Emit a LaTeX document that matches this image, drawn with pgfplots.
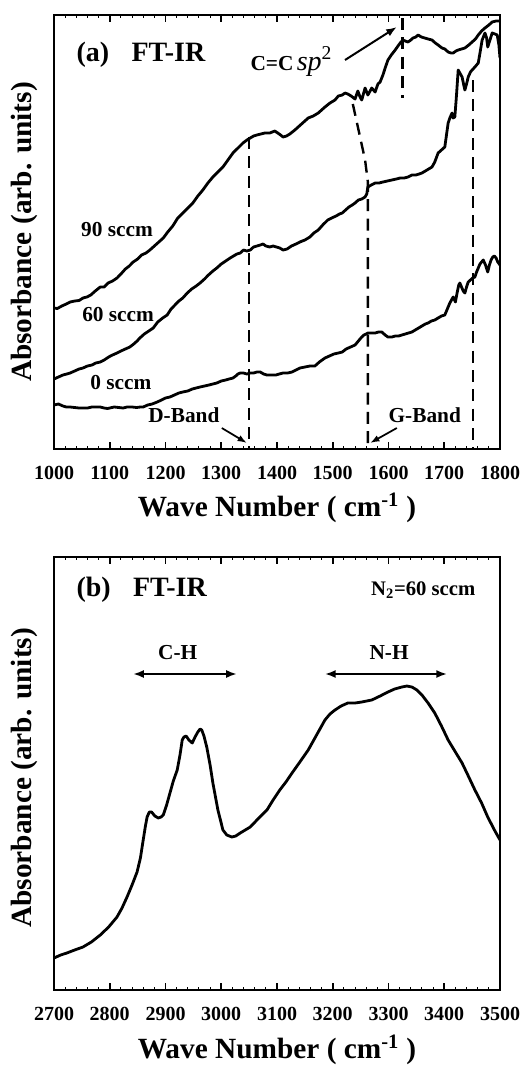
\documentclass[border=0pt]{standalone}
\usepackage{fontspec}
\setmainfont{Liberation Serif}
\usepackage{pgfplots}
\pgfplotsset{compat=1.18}
\usetikzlibrary{arrows.meta}

\pgfplotscreateplotcyclelist{ftirlist}{black,mark=none,line width=2.1pt,line join=round\\}
\pgfplotsset{
  ftir/.style={
    scale only axis, width=334.5pt,
    axis line style={line width=2pt},
    ytick=\empty,
    xtick pos=both,
    minor x tick num=4,
    tick align=inside,
    major tick length=5pt, minor tick length=2.5pt,
    every tick/.style={black, line width=1.2pt},
    every minor tick/.style={black, line width=0.8pt},
    xticklabel style={font=\fontsize{15}{15}\selectfont\bfseries, anchor=center, yshift=-18pt},
    /pgf/number format/assume math mode=true,
    /pgf/number format/1000 sep={},
    xlabel style={font=\fontsize{22}{26}\selectfont\bfseries, anchor=center},
    ylabel style={font=\fontsize{22}{26}\selectfont\bfseries, anchor=center},
    cycle list name=ftirlist,
  },
}
\tikzset{
  dashline/.style={line width=1.8pt, dash pattern=on 9pt off 5.5pt, black},
  lab/.style={font=\fontsize{16}{16}\selectfont\bfseries},
}

\begin{document}
\begin{tikzpicture}
\useasboundingbox (0,0) rectangle (393pt,-798.75pt);

% ---------------- panel (a) ----------------
\begin{axis}[ftir, at={(40.5pt,-11.25pt)}, anchor=north west, height=325.5pt,
  xmin=1000, xmax=1800, ymin=-449, ymax=-15,
  xtick={1000,1100,...,1800},
  xlabel={Wave Number ( cm\textsuperscript{-1} )},
  ylabel={Absorbance (arb. units)},
  xlabel style={at={(axis description cs:0.5,-0.136)}},
  ylabel style={at={(axis description cs:-0.066,0.5)}},
]
% 90 sccm
\addplot coordinates {
(1000,-308)(1006,-308.5)(1014,-306)(1022,-304)(1029,-302)(1037,-301)(1045,-300.5)(1052,-298)(1059,-297)(1066,-295)
(1074,-291)(1083,-287)(1090,-287)(1097,-283)(1105,-281)(1113,-278)(1120,-274)(1128,-269)(1135,-266)(1142,-262)
(1150,-259)(1157,-255)(1165,-253)(1172,-250)(1180,-246)(1188,-242)(1196,-238)(1204,-232)(1213,-226)(1222,-218)
(1231,-213)(1240,-208)(1249,-203)(1258,-196)(1267,-190)(1276,-183)(1285,-177)(1294,-172)(1303,-167)(1312,-160)
(1321,-153)(1330,-148)(1339,-143)(1346,-140)(1352,-138)(1358,-136)(1364,-135)(1371,-134)(1378,-133)(1387,-133)
(1396,-131)(1404,-134)(1411,-137)(1417,-136)(1423,-134)(1432,-130)(1440,-126)(1448,-122)(1456,-118)(1465,-116)
(1474,-113)(1480,-110)(1486,-107)(1495,-103)(1504,-100)(1510,-96)(1517,-95)(1522,-93)(1527,-94)(1533,-96)
(1540,-99)(1545,-91)(1549,-97)(1552,-100)(1558,-88)(1563,-95)(1567,-91)(1570,-88)(1576,-92)(1581,-84)
(1585,-82)(1590,-75)(1594,-68)(1599,-60)(1605,-55)(1612,-50)(1617,-46)(1621,-43)(1626,-40)(1630,-41)
(1635,-42)(1640,-40)(1644,-38)(1649,-37)(1653,-35)(1659,-37)(1665,-38)(1671,-39)(1678,-40)(1684,-43)
(1689,-45)(1696,-48)(1701,-49)(1707,-52)(1712,-53)(1716,-53)(1721,-51)(1725,-50)(1731,-49)(1737,-48)
(1744,-45)(1750,-42)(1756,-39)(1761,-35)(1767,-31)(1773,-28)(1780,-25)(1786,-22)(1793,-21)(1800,-21)
};
% 60 sccm
\addplot coordinates {
(1000,-379)(1008,-377)(1016,-375)(1023,-374)(1029,-373)(1037,-371)(1045,-369)(1052,-368)(1060,-366)(1068,-365)
(1075,-363)(1083,-362)(1090,-360)(1098,-357)(1105,-355)(1113,-353)(1120,-351)(1128,-349)(1136,-347)(1143,-344)
(1149,-341)(1154,-338)(1162,-334)(1170,-331)(1178,-328)(1186,-322)(1195,-318)(1203,-315)(1210,-309)(1217,-305)
(1224,-301)(1231,-298)(1239,-293)(1247,-289)(1255,-286)(1262,-283)(1270,-279)(1277,-275)(1285,-271)(1292,-268)
(1300,-264)(1308,-261)(1316,-258)(1322,-256)(1328,-254)(1334,-253)(1340,-250)(1346,-251)(1352,-250)(1358,-247)
(1364,-246)(1370,-245)(1375,-244)(1380,-246)(1387,-247)(1393,-246)(1399,-247)(1405,-248)(1411,-250)(1418,-249)
(1426,-246)(1434,-244)(1441,-242)(1450,-240)(1459,-237)(1466,-233)(1474,-230)(1482,-225)(1491,-220)(1498,-218)
(1506,-216)(1512,-214)(1517,-213)(1523,-210)(1529,-207)(1535,-205)(1540,-203)(1546,-200)(1552,-199)(1558,-197)
(1561,-194)(1563,-187)(1569,-185)(1576,-183)(1583,-183)(1590,-182)(1598,-181)(1606,-180)(1614,-179)(1621,-178)
(1628,-178)(1635,-177)(1642,-175)(1649,-175)(1655,-174)(1660,-173)(1666,-171)(1672,-169)(1678,-167)(1683,-162)
(1689,-153)(1695,-150)(1701,-147)(1704,-135)(1707,-123)(1710,-118)(1714,-113)(1716,-118)(1719,-117)(1722,-95)
(1725,-70)(1729,-74)(1732,-77)(1735,-85)(1737,-90)(1740,-84)(1743,-77)(1747,-72)(1750,-70)(1755,-67)
(1761,-63)(1765,-50)(1768,-40)(1773,-33)(1776,-38)(1778,-47)(1782,-40)(1786,-33)(1791,-34)(1795,-35)
(1798,-45)(1800,-58)
};
% 0 sccm
\addplot coordinates {
(1000,-405)(1008,-404)(1016,-406)(1022,-407)(1029,-407)(1037,-407.5)(1045,-408)(1052,-408)(1060,-408)(1068,-407)
(1075,-407)(1083,-407)(1090,-408)(1096,-408.5)(1100,-408)(1108,-407)(1116,-407.5)(1124,-408)(1131,-407)(1140,-407)
(1148,-407.5)(1155,-407)(1160,-407)(1168,-405)(1176,-404)(1185,-402)(1193,-400)(1200,-398)(1208,-397)(1216,-395)
(1224,-393)(1231,-392)(1240,-391)(1248,-389)(1255,-388)(1262,-387)(1270,-386)(1278,-385)(1285,-384)(1292,-383)
(1300,-381)(1308,-380)(1314,-379)(1321,-378)(1326,-376)(1330,-374)(1334,-373)(1340,-373)(1346,-374)(1352,-373)
(1358,-373)(1364,-372)(1370,-372)(1376,-374)(1382,-375)(1390,-375)(1398,-375)(1404,-374)(1411,-373)(1419,-373)
(1427,-372)(1434,-370)(1441,-368)(1450,-367)(1459,-366)(1468,-366)(1476,-362)(1486,-358)(1494,-356)(1502,-354)
(1510,-353)(1517,-352)(1524,-349)(1532,-347)(1540,-345)(1546,-341)(1549,-339)(1552,-337)(1556,-335)(1560,-334)
(1563,-333)(1570,-333)(1576,-333)(1582,-332)(1588,-332)(1594,-335)(1599,-337)(1606,-337)(1612,-336)(1618,-336)
(1624,-335)(1630,-334)(1636,-333)(1642,-332)(1648,-330)(1654,-328)(1660,-326)(1666,-324)(1671,-323)(1677,-321)
(1683,-320)(1689,-318)(1695,-316)(1701,-315)(1704,-311)(1707,-307)(1710,-303)(1713,-300)(1716,-297)(1720,-302)
(1723,-293)(1726,-285)(1728,-283)(1731,-287)(1734,-291)(1737,-293)(1740,-287)(1743,-282)(1747,-280)(1751,-278)
(1755,-277)(1758,-272)(1761,-268)(1764,-264)(1767,-262)(1770,-260)(1774,-265)(1778,-272)(1781,-265)(1784,-260)
(1787,-257)(1790,-256)(1793,-258)(1796,-262)(1800,-265)
};
% dashed guide lines
\addplot[dashline] coordinates {(1350,-137) (1350,-449)};
\addplot[dashline] coordinates {(1536,-104) (1549,-137) (1558,-160) (1563,-182) (1563,-449)};
\addplot[dashline] coordinates {(1752,-80) (1752,-449)};
\addplot[dashline] coordinates {(1625,-18) (1625,-98)};
% annotations
\node[anchor=west, font=\fontsize{21}{21}\selectfont\bfseries] at (axis cs:1032,-55) {(a)\hspace{0.8em}FT-IR};
\node[anchor=base west, inner sep=0pt] at (axis cs:1352,-70) {{\fontsize{16}{16}\selectfont\bfseries C=C} {\fontsize{21}{21}\selectfont\itshape sp\textsuperscript{\upshape 2}}};
\draw[-{Latex[length=8pt,width=6pt]}, line width=1.5pt] (axis cs:1522,-60) -- (axis cs:1615,-27);
\node[lab] at (axis cs:1113,-230) {90 sccm};
\node[lab] at (axis cs:1115,-315) {60 sccm};
\node[lab] at (axis cs:1120,-383) {0 sccm};
\node[lab] at (axis cs:1233,-415) {D-Band};
\node[lab] at (axis cs:1665,-415) {G-Band};
\draw[-{Latex[length=7pt,width=5pt]}, line width=1.3pt] (axis cs:1301,-428) -- (axis cs:1346,-443);
\draw[-{Latex[length=7pt,width=5pt]}, line width=1.3pt] (axis cs:1615,-428) -- (axis cs:1567,-443);
\end{axis}

% ---------------- panel (b) ----------------
\begin{axis}[ftir, at={(40.5pt,-417.75pt)}, anchor=north west, height=324.75pt,
  xmin=2700, xmax=3500, ymin=-990, ymax=-557,
  xtick={2700,2800,...,3500},
  xlabel={Wave Number ( cm\textsuperscript{-1} )},
  ylabel={Absorbance (arb. units)},
  xlabel style={at={(axis description cs:0.5,-0.138)}},
  ylabel style={at={(axis description cs:-0.066,0.49)}},
]
\addplot coordinates {
(2700,-958)(2712,-955)(2723,-953)(2737,-950)(2752,-947)(2767,-942)(2783,-935)(2798,-927)(2813,-917)(2822,-908)
(2831,-897)(2840,-885)(2849,-872)(2855,-858)(2860,-840)(2864,-826)(2867,-817)(2871,-812)(2875,-812)(2881,-816)
(2887,-818)(2892,-817)(2896,-815)(2902,-805)(2908,-793)(2914,-781)(2921,-770)(2926,-755)(2930,-740)(2933,-737)
(2937,-736)(2942,-740)(2948,-743)(2953,-737)(2958,-732)(2962,-729)(2965,-730)(2969,-736)(2974,-747)(2980,-765)
(2985,-783)(2990,-798)(2994,-810)(2999,-821)(3003,-830)(3010,-835)(3019,-837)(3026,-836)(3034,-833)(3043,-830)
(3052,-827)(3064,-820)(3073,-815)(3082,-810)(3093,-800)(3105,-790)(3116,-782)(3127,-773)(3141,-762)(3156,-750)
(3171,-735)(3186,-720)(3195,-714)(3204,-710)(3215,-706)(3227,-703)(3240,-703)(3252,-702)(3261,-701)(3270,-700)
(3285,-696)(3299,-692)(3311,-689)(3324,-687)(3333,-686)(3342,-687)(3351,-690)(3360,-695)(3371,-703)(3383,-713)
(3395,-726)(3407,-740)(3420,-752)(3432,-763)(3444,-777)(3455,-790)(3467,-803)(3478,-817)(3490,-830)(3500,-840)
};
\node[anchor=west, font=\fontsize{21}{21}\selectfont\bfseries] at (axis cs:2732,-590) {(b)\hspace{0.8em}FT-IR};
\node[anchor=east, font=\fontsize{15.5}{16}\selectfont\bfseries] at (axis cs:3464,-590) {N\textsubscript{2}=60 sccm};
\node[lab] at (axis cs:2922,-653) {C-H};
\node[lab] at (axis cs:3301,-653) {N-H};
\draw[{Latex[length=8pt,width=6pt]}-{Latex[length=8pt,width=6pt]}, line width=1.5pt] (axis cs:2842,-674) -- (axis cs:3028,-674);
\draw[{Latex[length=8pt,width=6pt]}-{Latex[length=8pt,width=6pt]}, line width=1.5pt] (axis cs:3186,-674) -- (axis cs:3405,-674);
\end{axis}
\end{tikzpicture}
\end{document}
